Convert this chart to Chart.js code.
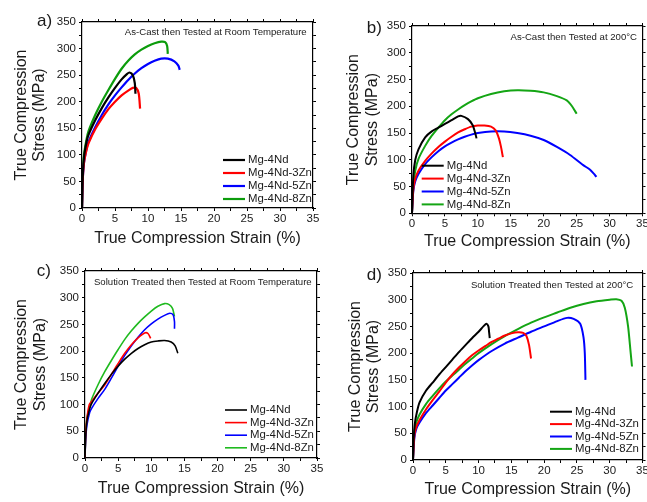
<!DOCTYPE html>
<html>
<head>
<meta charset="UTF-8">
<title>True compression stress-strain curves</title>
<script src="https://cdn.jsdelivr.net/npm/chart.js@4.4.1/dist/chart.umd.min.js"></script>
<style>
  body {
    margin: 0;
    background: #ffffff;
    width: 647px;
    height: 502px;
    overflow: hidden;
    position: relative;
  }
  canvas {
    position: absolute;
  }
</style>
</head>
<body>
<canvas id="chartA" width="323" height="251" style="left:0px;top:0px"></canvas>
<canvas id="chartB" width="324" height="251" style="left:323px;top:0px"></canvas>
<canvas id="chartC" width="323" height="251" style="left:0px;top:251px"></canvas>
<canvas id="chartD" width="324" height="251" style="left:323px;top:251px"></canvas>
<script>

const seriesNames = ['Mg-4Nd', 'Mg-4Nd-3Zn', 'Mg-4Nd-5Zn', 'Mg-4Nd-8Zn'];
const panelLetters = ['a)', 'b)', 'c)', 'd)'];
const panelNotes = [
  'As-Cast then Tested at Room Temperature',
  'As-Cast then Tested at 200\u00B0C',
  'Solution Treated then Tested at Room Temperature',
  'Solution Treated then Tested at 200\u00B0C'
];
const xTitle = 'True Compression Strain (%)';
const yTitle = ['True Compression', 'Stress (MPa)'];
const strainMin = 0, strainMax = 35, strainLabelStep = 5;
const stressMin = 0, stressMax = 350, stressLabelStep = 50;

// a) as-cast, room temperature  [strain %, stress MPa]
const a_4Nd = [[0,0],[0.1,55],[0.3,95],[0.7,125],[1,138],[2,165],[3,188],[4,208],[5,226],[6,242],[6.8,252],[7.2,255],[7.7,250],[8,235],[8.1,215]];
const a_3Zn = [[0,0],[0.1,50],[0.3,85],[0.7,110],[1,122],[2,148],[3,168],[4,186],[5,200],[6,212],[7,221],[7.7,226],[8.2,226],[8.6,215],[8.8,187]];
const a_5Zn = [[0,0],[0.1,50],[0.3,85],[0.7,112],[1,125],[2,152],[3,175],[4,195],[5,212],[6,227],[7,241],[8,253],[9,263],[10,271],[11,277],[12,281],[13,281],[14,276],[14.6,268],[14.8,260]];
const a_8Zn = [[0,0],[0.1,60],[0.3,100],[0.7,130],[1,145],[2,175],[3,200],[4,222],[5,243],[6,262],[7,277],[8,289],[9,298],[10,305],[11,310],[12,313],[12.6,312],[12.9,305],[13,290]];

// b) as-cast, 200 C
const b_4Nd = [[0,0],[0.2,70],[0.5,100],[1,120],[2,142],[3,153],[4,160],[5,167],[6,174],[7,181],[7.5,182],[8.5,176],[9.2,165],[9.6,150],[9.8,140]];
const b_3Zn = [[0,0],[0.2,45],[0.5,65],[1,80],[2,98],[3,112],[4,124],[5,134],[6,143],[7,151],[8,157],[9,162],[10,164],[11,164],[12,162],[12.7,155],[13.2,140],[13.5,125],[13.8,105]];
const b_5Zn = [[0,0],[0.2,42],[0.5,60],[1,74],[2,92],[3,105],[4,116],[5,125],[6,132],[7,138],[8,143],[9,147],[10,150],[12,153],[14,153],[16,150],[18,145],[20,137],[22,124],[24,109],[26,90],[27,82],[27.6,74],[28,68]];
const b_8Zn = [[0,0],[0.2,48],[0.5,80],[1,102],[2,126],[3,145],[4,160],[5,174],[6,185],[7,194],[8,202],[9,209],[10,215],[12,223],[14,228],[16,230],[18,229],[20,226],[22,219],[23.5,211],[24.3,200],[25,186]];

// c) solution treated, room temperature
const c_4Nd = [[0,0],[0.1,40],[0.3,70],[0.7,92],[1,102],[2,122],[3,140],[4,157],[5,172],[6,185],[7,196],[8,205],[9,212],[10,217],[11,219],[12,220],[13,217],[13.6,210],[14,196]];
const c_3Zn = [[0,0],[0.1,45],[0.3,75],[0.65,100],[1,106],[2,122],[3,137],[4,157],[5,177],[6,196],[7,212],[8,225],[9,234],[9.5,233],[9.9,224]];
const c_5Zn = [[0,0],[0.1,35],[0.3,62],[0.7,85],[1,93],[2,112],[3,129],[4,150],[5,172],[6,192],[7,210],[8,226],[9,240],[10,251],[11,260],[12,267],[12.8,271],[13.3,268],[13.5,255],[13.5,242]];
const c_8Zn = [[0,0],[0.1,45],[0.3,75],[0.8,100],[1,110],[2,138],[3,162],[4,183],[5,203],[6,222],[7,238],[8,252],[9,264],[10,275],[11,284],[12,289],[12.7,287],[13.2,280],[13.5,265]];

// d) solution treated, 200 C
const d_4Nd = [[0,0],[0.1,40],[0.3,70],[0.6,90],[1,108],[2,130],[3,145],[4,160],[5,174],[6,188],[7,202],[8,215],[9,228],[10,240],[10.8,251],[11.2,255],[11.5,250],[11.6,240],[11.7,228]];
const d_3Zn = [[0,0],[0.2,45],[0.5,62],[1,75],[2,95],[3,112],[4,128],[5,145],[6,160],[7,173],[8,185],[9,196],[10,205],[11,213],[12,221],[13,227],[14,233],[15,237],[16,239],[16.8,238],[17.3,232],[17.7,215],[18,190]];
const d_5Zn = [[0,0],[0.2,40],[0.5,58],[1,70],[2,88],[3,102],[4,116],[5,130],[6,142],[7,154],[8,166],[9,177],[10,187],[12,204],[14,218],[16,229],[18,240],[20,250],[22,260],[23.5,266],[24.5,264],[25.5,255],[26,230],[26.2,200],[26.3,150]];
const d_8Zn = [[0,0],[0.2,50],[0.5,70],[1,85],[2,105],[3,120],[4,134],[5,147],[6,158],[7,169],[8,180],[9,190],[10,200],[12,217],[14,232],[16,245],[18,257],[20,267],[22,276],[24,285],[26,292],[28,297],[30,300],[31,301],[31.8,298],[32.3,285],[32.8,250],[33.2,200],[33.4,175]];

const FONT_FAMILY = '"Liberation Sans", Arial, sans-serif';
const TEXT_COLOR = '#1a1a1a';

// canvas-local plot boxes [left, top, right, bottom] and text spots
const PANELS = [
  {id: 'chartA', w: 323, h: 251, plot: [82, 22, 313, 208], series: [a_4Nd, a_3Zn, a_5Zn, a_8Zn],
   green: '#0c9c0c', lineWidth: 2.2, yTitlePad: 12, xTitlePad: 2.8,
   letterX: 37, letterY: 21, noteX: 306.7, noteY: 32.3,
   legendX: 223, legendY: 160, legendGap: 13},
  {id: 'chartB', w: 324, h: 251, plot: [89, 26, 319.5, 213.3], series: [b_4Nd, b_3Zn, b_5Zn, b_8Zn],
   green: '#14a514', lineWidth: 2, yTitlePad: 21.5, xTitlePad: 0,
   letterX: 43.7, letterY: 28.3, noteX: 314, noteY: 37.7,
   legendX: 98.7, legendY: 165.7, legendGap: 12.9},
  {id: 'chartC', w: 323, h: 251, plot: [85, 20, 317, 207], series: [c_4Nd, c_3Zn, c_5Zn, c_8Zn],
   green: '#1fba1f', lineWidth: 1.6, yTitlePad: 12.8, xTitlePad: 3.8,
   letterX: 36.7, letterY: 20, noteX: 311.7, noteY: 31.3,
   legendX: 225, legendY: 159, legendGap: 12.6},
  {id: 'chartD', w: 324, h: 251, plot: [90, 22, 319.5, 209], series: [d_4Nd, d_3Zn, d_5Zn, d_8Zn],
   green: '#14a514', lineWidth: 2, yTitlePad: 23, xTitlePad: 2.8,
   letterX: 43.7, letterY: 24, noteX: 310.3, noteY: 34,
   legendX: 227, legendY: 160.7, legendGap: 12.4}
];

const panelText = {
  id: 'panelText',
  afterDraw(chart, args, o) {
    const ctx = chart.ctx;
    ctx.save();
    ctx.fillStyle = TEXT_COLOR;
    ctx.textBaseline = 'middle';
    ctx.textAlign = 'left';
    ctx.font = '17px ' + FONT_FAMILY;
    ctx.fillText(o.letter, o.letterX, o.letterY);
    ctx.textAlign = 'right';
    ctx.font = '9.6px ' + FONT_FAMILY;
    ctx.fillText(o.note, o.noteX, o.noteY);
    ctx.textAlign = 'left';
    ctx.font = '11.4px ' + FONT_FAMILY;
    chart.data.datasets.forEach((ds, k) => {
      const y = o.legendY + k * o.legendGap;
      ctx.strokeStyle = ds.borderColor;
      ctx.lineWidth = ds.borderWidth;
      ctx.beginPath();
      ctx.moveTo(o.legendX, y);
      ctx.lineTo(o.legendX + 22, y);
      ctx.stroke();
      ctx.fillText(ds.label, o.legendX + 25, y);
    });
    ctx.restore();
  }
};

function fixedSize(size, horizontal) {
  return function (scale) {
    if (horizontal) {
      scale.height = size;
      scale.paddingLeft = 0;
      scale.paddingRight = 0;
    } else {
      scale.width = size;
      scale.paddingTop = 0;
      scale.paddingBottom = 0;
    }
  };
}

function axisLook(extra) {
  return Object.assign({
    type: 'linear',
    grid: {drawOnChartArea: false, drawTicks: true, tickLength: 3, tickColor: '#000', tickWidth: 1},
    border: {display: true, color: '#000', width: 1.2}
  }, extra);
}

function makePanel(p, i) {
  const [pl, pt, pr, pb] = p.plot;
  const colors = ['#000000', '#ff0000', '#0000ff', p.green];
  const tickFont = {family: FONT_FAMILY, size: 11.5};
  const titleFont = {family: FONT_FAMILY, size: 16, lineHeight: 1.15};
  const datasets = p.series.map((pts, k) => ({
    label: seriesNames[k],
    data: pts.map(v => ({x: v[0], y: v[1]})),
    borderColor: colors[k],
    borderWidth: p.lineWidth,
    pointRadius: 0,
    tension: 0.25,
    fill: false
  }));
  return new Chart(document.getElementById(p.id), {
    type: 'line',
    data: {datasets: datasets},
    options: {
      responsive: false,
      animation: false,
      devicePixelRatio: 1,
      layout: {padding: 0},
      plugins: {
        legend: {display: false},
        tooltip: {enabled: false},
        panelText: {
          letter: panelLetters[i], note: panelNotes[i],
          letterX: p.letterX, letterY: p.letterY,
          noteX: p.noteX, noteY: p.noteY,
          legendX: p.legendX, legendY: p.legendY, legendGap: p.legendGap
        }
      },
      scales: {
        x: axisLook({
          position: 'bottom', min: strainMin, max: strainMax,
          ticks: {stepSize: strainLabelStep / 2, autoSkip: false, maxRotation: 0, padding: 1,
            color: TEXT_COLOR, font: tickFont,
            callback: v => (v % strainLabelStep === 0 ? v : '')},
          title: {display: true, text: xTitle, color: TEXT_COLOR, font: titleFont,
            padding: {top: 0, bottom: p.xTitlePad}},
          afterFit: fixedSize(p.h - pb, true)
        }),
        y: axisLook({
          position: 'left', min: stressMin, max: stressMax,
          ticks: {stepSize: stressLabelStep / 2, autoSkip: false, padding: 3,
            color: TEXT_COLOR, font: tickFont,
            callback: v => (v % stressLabelStep === 0 ? v : '')},
          title: {display: true, text: yTitle, color: TEXT_COLOR, font: titleFont,
            padding: {top: p.yTitlePad, bottom: 0}},
          afterFit: fixedSize(pl, false)
        }),
        x2: axisLook({
          position: 'top', min: strainMin, max: strainMax,
          ticks: {display: false, stepSize: strainLabelStep / 2},
          afterFit: fixedSize(pt, true)
        }),
        y2: axisLook({
          position: 'right', min: stressMin, max: stressMax,
          ticks: {display: false, stepSize: stressLabelStep / 2},
          afterFit: fixedSize(p.w - pr, false)
        })
      }
    },
    plugins: [panelText]
  });
}

const charts = PANELS.map(makePanel);
</script>
</body>
</html>
